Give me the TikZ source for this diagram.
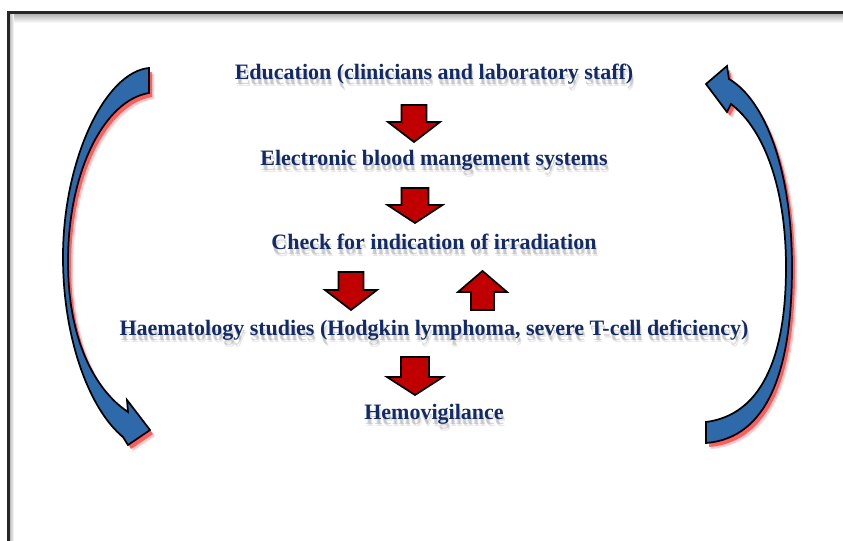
\documentclass[tikz,border=0pt]{standalone}
\usepackage{fontspec}
\setmainfont{Liberation Serif}
\definecolor{navy}{RGB}{18,42,104}
\definecolor{arcblue}{RGB}{46,106,170}
\definecolor{blkred}{RGB}{192,0,0}
\newcommand\blkdown[6]{%
  \filldraw[redblk] ({#1-#5},#2) -- ({#1+#5},#2) -- ({#1+#5},#3) -- ({#1+#6},#3) -- (#1,#4) -- ({#1-#6},#3) -- ({#1-#5},#3) -- cycle;}
\newcommand\leftarcpath{(149,68) .. controls (105,72) and (63,160) .. (63,257) .. controls (63,340) and (90,410) .. (123,437) -- (128,445) -- (150,430) -- (127,400) -- (128,412) .. controls (95,390) and (68,340) .. (68,262) .. controls (68,170) and (105,100) .. (149,93) -- cycle}
\newcommand\rightarcpath{(706,443) .. controls (768,438) and (792,370) .. (792,267) .. controls (792,170) and (765,100) .. (729,79) -- (727,66) -- (706,84) -- (727,112) -- (731,104) .. controls (765,130) and (786,190) .. (786,267) .. controls (786,360) and (760,415) .. (706,422) -- cycle}
\tikzset{
  txt/.style={font=\fontsize{16.5}{20}\selectfont\bfseries, text=navy, anchor=base, inner sep=0pt},
  txtshadow/.style={font=\fontsize{16.5}{20}\selectfont\bfseries, text=black!45, opacity=0.35, anchor=base, inner sep=0pt},
  redblk/.style={fill=blkred, draw=black, line width=1.3pt, line join=miter},
  arc/.style={fill=arcblue, draw=black, line width=1.3pt, line join=miter},
  arcshadow/.style={fill=red, draw=none}
}
\begin{document}
\begin{tikzpicture}[x=0.75pt, y=-0.75pt]
\useasboundingbox (0,0) rectangle (843,541);
% frame
\shade[top color=black!30, bottom color=white] (9,14) rectangle (843,23);
\shade[left color=black!25, right color=white] (10,14) rectangle (14,541);
\draw[line width=1.6pt, black!85] (8.5,541) -- (8.5,12.5) -- (843,12.5);
% texts with shadows
\foreach \n/\yy/\t in {edu/80/{Education (clinicians and laboratory staff)},
  ebms/166/{Electronic blood mangement systems},
  chk/250/{Check for indication of irradiation},
  haem/336/{Haematology studies (Hodgkin lymphoma, severe T-cell deficiency)},
  hemo/420/{Hemovigilance}}{
  \node[txtshadow] (\n-s1) at (435,\yy+5) {\t};
  \node[txtshadow, opacity=0.2] (\n-s2) at (436,\yy+7) {\t};
  \node[txt] (\n) at (434,\yy) {\t};
}
% red block arrows
\blkdown{414}{105}{122}{142}{12.5}{26}
\blkdown{415}{188}{205}{223}{13.5}{27.5}
\blkdown{351}{272}{290}{310}{12.5}{26}
\blkdown{482.5}{310}{292}{271}{11.5}{24.5}
\blkdown{415}{357}{377}{395}{14}{28}
% blue curved arrows with red shadow
\fill[arcshadow, opacity=0.2, shift={(5,6)}] \leftarcpath;
\fill[arcshadow, opacity=0.55, shift={(3,4)}] \leftarcpath;
\filldraw[arc] \leftarcpath;
\fill[arcshadow, opacity=0.2, shift={(5,6)}] \rightarcpath;
\fill[arcshadow, opacity=0.55, shift={(3,4)}] \rightarcpath;
\filldraw[arc] \rightarcpath;
\end{tikzpicture}
\end{document}
